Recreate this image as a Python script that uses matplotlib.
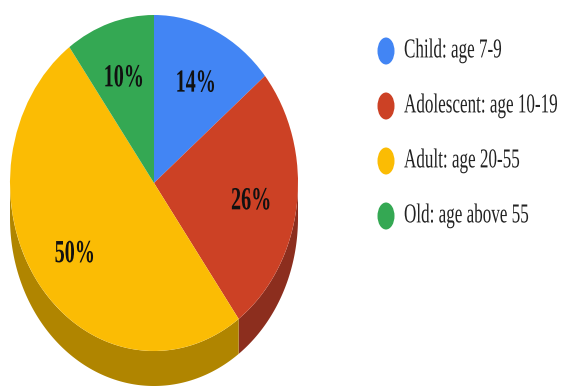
import numpy as np
import matplotlib
matplotlib.use("Agg")
import matplotlib.pyplot as plt
from matplotlib.patches import Ellipse
from matplotlib.patheffects import AbstractPathEffect
from matplotlib.transforms import Affine2D

# Age groups and their shares (percent)
categories = ["Child: age 7-9", "Adolescent: age 10-19", "Adult: age 20-55", "Old: age above 55"]
shares = [14, 26, 50, 10]
top_colors = ["#4285F4", "#CC4125", "#FBBC04", "#34A853"]
side_colors = ["#2A5BB0", "#8C2E1E", "#B08500", "#23743A"]

W, H = 564, 387
fig = plt.figure(figsize=(W / 100, H / 100), dpi=100)
SERIF = ["Liberation Serif", "DejaVu Serif"]


class TallText(AbstractPathEffect):
    """Stretch glyphs vertically about the text's own anchor, giving a condensed look."""

    def __init__(self, text, sy, dy=0.0):
        super().__init__()
        self.text = text
        self.sy = sy
        self.dy = dy

    def draw_path(self, renderer, gc, tpath, affine, rgbFace=None):
        y0 = self.text.get_transform().transform(self.text.get_position())[1]
        t = affine + Affine2D().translate(0, -y0).scale(1, self.sy).translate(0, y0 + self.dy)
        renderer.draw_path(gc, tpath, t, rgbFace)


# pie geometry in pixels
cx, cy = 154, 183          # centre of the top face
rx, ry = 144, 168          # radii of the top face
depth_px = 35              # thickness of the side wall
depth = depth_px / ry

left = (cx - rx) / W
bottom = (H - (cy + ry + depth_px)) / H
ax = fig.add_axes([left, bottom, 2 * rx / W, (2 * ry + depth_px) / H])

# side wall: only the front half (clockwise angle from top between 90 and 270) is visible
total = float(sum(shares))
edges = np.concatenate([[0], np.cumsum(shares)]) / total * 360.0
for i in range(len(shares)):
    a0, a1 = max(edges[i], 90.0), min(edges[i + 1], 270.0)
    if a1 <= a0:
        continue
    a = np.linspace(a0, a1, 200)
    phi = np.radians(90.0 - a)
    xs, ys = np.cos(phi), np.sin(phi)
    px = np.concatenate([xs, xs[::-1]])
    py = np.concatenate([ys, ys[::-1] - depth])
    ax.fill(px, py, color=side_colors[i], lw=0, zorder=1)

# top face
wedges, _, autotexts = ax.pie(
    shares, colors=top_colors, startangle=90, counterclock=False,
    autopct="%d%%", pctdistance=0.68, radius=1.0, center=(0, 0),
    wedgeprops=dict(linewidth=0),
    textprops=dict(family=SERIF, fontsize=14.5, fontweight="bold", color="#111111"),
    frame=False,
)
for w in wedges:
    w.set_zorder(2)
for t in autotexts:
    t.set_zorder(3)
    t.set_path_effects([TallText(t, 1.6, dy=-4)])
ax.set_xlim(-1, 1)
ax.set_ylim(-1 - depth, 1)
ax.set_aspect("auto")
ax.axis("off")

# legend drawn in figure pixels
lax = fig.add_axes([0, 0, 1, 1])
lax.set_xlim(0, W)
lax.set_ylim(H, 0)
lax.axis("off")
lax.set_zorder(-1)
row_y = [51, 106, 161, 216]
for name, col, y in zip(categories, top_colors, row_y):
    lax.add_patch(Ellipse((386, y), 17, 27, color=col, lw=0))
    txt = lax.text(404, y, name, va="center", ha="left", fontsize=12.3,
                   family=SERIF, color="#222222")
    txt.set_path_effects([TallText(txt, 1.6)])

fig.savefig("out.png", dpi=100)
